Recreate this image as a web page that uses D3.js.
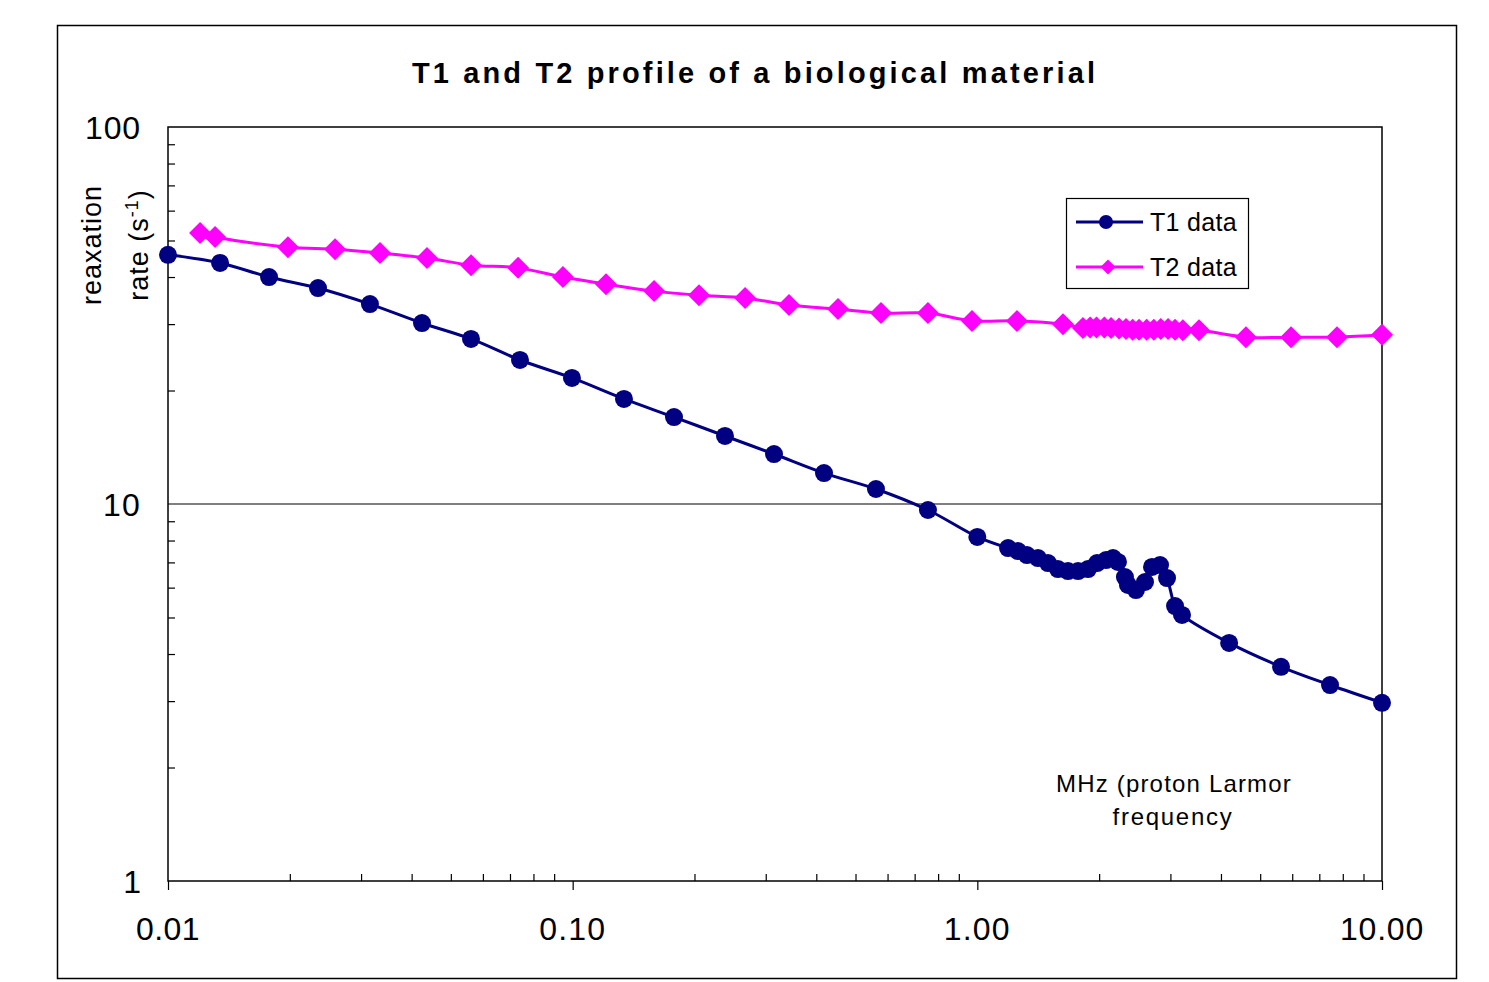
<!DOCTYPE html>
<html><head><meta charset="utf-8">
<script src="https://cdn.jsdelivr.net/npm/d3@7"></script>
<style>body{margin:0;background:#fff}svg{display:block;font-family:Arial,"Liberation Sans",sans-serif}</style>
</head><body>
<svg id="c" width="1489" height="982"></svg>
<script>
// ---- data ----
const t1Freq = [0.01, 0.01345, 0.01777, 0.02348, 0.03155, 0.04243, 0.05608, 0.0741, 0.0996, 0.1339, 0.178, 0.2379, 0.3144, 0.4179, 0.5617, 0.755, 1.0,
  1.191, 1.26, 1.326, 1.412, 1.495, 1.582, 1.675, 1.774, 1.877, 1.976, 2.08, 2.164, 2.226, 2.316, 2.356, 2.466, 2.596, 2.702, 2.828, 2.943, 3.08, 3.205,
  4.19, 5.63, 7.44, 10.0];
const t1Rate = [45.8, 43.6, 40.0, 37.4, 33.9, 30.2, 27.4, 24.1, 21.6, 19.0, 17.0, 15.15, 13.57, 12.08, 10.96, 9.64, 8.18,
  7.64, 7.50, 7.32, 7.19, 6.97, 6.72, 6.64, 6.64, 6.72, 6.97, 7.10, 7.19, 7.02, 6.40, 6.10, 5.91, 6.21, 6.81, 6.89, 6.36, 5.36, 5.08,
  4.28, 3.70, 3.31, 2.97];
const t2Freq = [0.012, 0.01307, 0.01979, 0.02587, 0.03341, 0.04365, 0.0561, 0.0733, 0.0946, 0.1209, 0.1589, 0.2052, 0.2667, 0.3424, 0.4526, 0.578, 0.755, 0.970, 1.253, 1.628,
  1.824, 1.90, 1.97, 2.06, 2.14, 2.24, 2.33, 2.42, 2.51, 2.62, 2.73, 2.84, 2.96, 3.08, 3.22,
  3.53, 4.61, 5.96, 7.74, 10.0];
const t2Rate = [52.3, 51.1, 48.0, 47.4, 46.3, 44.9, 43.0, 42.3, 40.0, 38.3, 36.7, 35.8, 35.2, 33.7, 32.9, 32.1, 32.1, 30.6, 30.6, 30.0,
  29.3, 29.4, 29.4, 29.4, 29.3, 29.2, 29.1, 29.0, 29.0, 29.0, 29.0, 29.1, 29.1, 29.0, 28.9,
  28.9, 27.7, 27.7, 27.7, 28.1];
const xMajor = [0.01, 0.1, 1, 10];
const xMajorLabels = ["0.01", "0.10", "1.00", "10.00"];
const yMajor = [1, 10, 100];
const yMajorLabels = ["1", "10", "100"];
const seriesNames = ["T1 data", "T2 data"];
const titleText = "T1 and T2 profile of a biological material";
const yTitle1 = "reaxation";
const xNote = ["MHz (proton Larmor", "frequency"];

// ---- layout ----
const svg = d3.select("#c");
const L = 168, R = 1382, T = 127, B = 881;
const x = d3.scaleLog().domain([0.01, 10]).range([L, R]);
const y = d3.scaleLog().domain([1, 100]).range([B, T]);
const navy = "#000080", mag = "#FF00FF";

function fit(sel, target) {
  const n = sel.text().length;
  const w = sel.node().getComputedTextLength();
  sel.attr("letter-spacing", ((target - w) / n).toFixed(2));
  return sel;
}

// outer border
svg.append("rect").attr("x", 57.5).attr("y", 25.5).attr("width", 1399).attr("height", 953)
  .attr("fill", "#fff").attr("stroke", "#000").attr("stroke-width", 1.5);

// title
fit(svg.append("text").attr("x", 755).attr("y", 83).attr("text-anchor", "middle")
  .attr("font-size", 29).attr("font-weight", "bold").text(titleText), 686);

// gridline at 10
svg.append("line").attr("x1", L).attr("x2", R).attr("y1", y(10)).attr("y2", y(10))
  .attr("stroke", "#000").attr("stroke-width", 1.2);

// minor ticks
const minorX = [];
[0.01, 0.1, 1].forEach(d => { for (let k = 2; k <= 9; k++) minorX.push(d * k); });
const minorY = [];
[1, 10].forEach(d => { for (let k = 2; k <= 9; k++) minorY.push(d * k); });

svg.append("g").attr("transform", `translate(0,${B})`)
  .call(d3.axisBottom(x).tickValues(minorX).tickSize(-7).tickFormat(""))
  .call(g => { g.select(".domain").remove(); g.selectAll("line").attr("stroke", "#000").attr("stroke-width", 1.2); });
svg.append("g").attr("transform", `translate(0,${B})`)
  .call(d3.axisBottom(x).tickValues(xMajor).tickSize(9).tickFormat(""))
  .call(g => { g.select(".domain").remove(); g.selectAll("line").attr("stroke", "#000").attr("stroke-width", 1.2); });
svg.append("g").attr("transform", `translate(${L},0)`)
  .call(d3.axisRight(y).tickValues(minorY).tickSize(7).tickFormat(""))
  .call(g => { g.select(".domain").remove(); g.selectAll("line").attr("stroke", "#000").attr("stroke-width", 1.2); });

// plot frame
svg.append("rect").attr("x", L).attr("y", T).attr("width", R - L).attr("height", B - T)
  .attr("fill", "none").attr("stroke", "#000").attr("stroke-width", 1.5);

// x labels
xMajor.forEach((v, i) => {
  fit(svg.append("text").attr("x", x(v)).attr("y", 940).attr("text-anchor", "middle")
    .attr("font-size", 32).text(xMajorLabels[i]), [64, 67, 67, 84][i]);
});
// y labels
yMajor.forEach((v, i) => {
  const t = svg.append("text").attr("x", 141).attr("y", y(v) + 12).attr("text-anchor", "end")
    .attr("font-size", 32).text(yMajorLabels[i]);
  if (i === 2) fit(t, 56);
  else if (i === 1) fit(t, 38);
});

// y title
fit(svg.append("text").attr("transform", "translate(101,245) rotate(-90)").attr("text-anchor", "middle")
  .attr("font-size", 27).text(yTitle1), 120);
const yt2 = svg.append("text").attr("transform", "translate(148,245) rotate(-90)").attr("text-anchor", "middle")
  .attr("font-size", 27).attr("letter-spacing", 1);
yt2.append("tspan").text("rate (s");
yt2.append("tspan").attr("dy", -10).attr("font-size", 18).text("-1");
yt2.append("tspan").attr("dy", 10).text(")");

// x note
fit(svg.append("text").attr("x", 1174).attr("y", 792).attr("text-anchor", "middle").attr("font-size", 24).text(xNote[0]), 236);
fit(svg.append("text").attr("x", 1173).attr("y", 825).attr("text-anchor", "middle").attr("font-size", 24).text(xNote[1]), 121);

// series
const t1 = t1Freq.map((f, i) => [f, t1Rate[i]]);
const t2 = t2Freq.map((f, i) => [f, t2Rate[i]]);
const line = d3.line().x(d => x(d[0])).y(d => y(d[1])).curve(d3.curveCatmullRom.alpha(0.5));

svg.append("path").attr("d", line(t2)).attr("fill", "none").attr("stroke", mag).attr("stroke-width", 3);
const diamond = (cx, cy, r) => `M${cx},${cy - r}L${cx + r},${cy}L${cx},${cy + r}L${cx - r},${cy}Z`;
svg.append("g").selectAll("path").data(t2).join("path")
  .attr("d", d => diamond(x(d[0]), y(d[1]), 11)).attr("fill", mag);

svg.append("path").attr("d", line(t1)).attr("fill", "none").attr("stroke", navy).attr("stroke-width", 3);
svg.append("g").selectAll("circle").data(t1).join("circle")
  .attr("cx", d => x(d[0])).attr("cy", d => y(d[1])).attr("r", 9).attr("fill", navy);

// legend
const lg = svg.append("g");
lg.append("rect").attr("x", 1066.5).attr("y", 198.5).attr("width", 182).attr("height", 90)
  .attr("fill", "#fff").attr("stroke", "#000").attr("stroke-width", 1.2);
[[222, navy], [267, mag]].forEach(([ly, c], i) => {
  lg.append("line").attr("x1", 1076).attr("x2", 1143).attr("y1", ly).attr("y2", ly).attr("stroke", c).attr("stroke-width", 3);
  if (i === 0) lg.append("circle").attr("cx", 1106).attr("cy", ly).attr("r", 7).attr("fill", c);
  else lg.append("path").attr("d", diamond(1108, ly, 7.5)).attr("fill", c);
  fit(lg.append("text").attr("x", 1150).attr("y", ly + 9).attr("font-size", 25).text(seriesNames[i]), 87);
});
</script>
</body></html>
